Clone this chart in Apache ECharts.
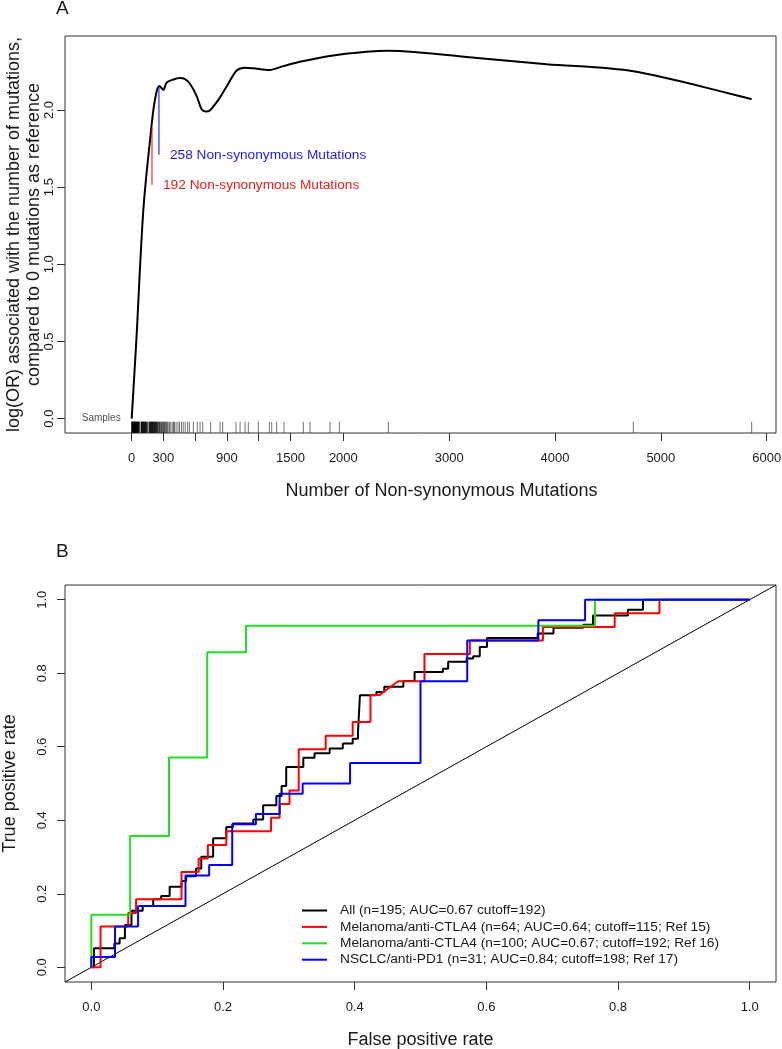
<!DOCTYPE html>
<html>
<head>
<meta charset="utf-8">
<script src="https://cdn.jsdelivr.net/npm/echarts@6/dist/echarts.min.js"></script>
<style>
  html, body { margin: 0; padding: 0; background: #fff; }
  #chart { width: 782px; height: 1049px; }
</style>
</head>
<body>
<div id="chart"></div>
<script>
// panel A: fitted log(OR) curve against mutation count
const curveX = [0, 22, 50, 78, 110, 142, 173, 205, 236, 261, 299, 330, 393, 456, 504, 551, 614, 661, 700, 740, 787, 834, 913, 992, 1071, 1150, 1300, 1433, 1590, 1905, 2220, 2425, 3291, 3922, 4740, 5858];
const curveY = [0, 0.25, 0.58, 0.97, 1.35, 1.6, 1.8, 2.0, 2.12, 2.155, 2.13, 2.177, 2.197, 2.207, 2.2, 2.17, 2.09, 2.004, 1.99, 1.997, 2.036, 2.08, 2.17, 2.256, 2.274, 2.27, 2.259, 2.284, 2.312, 2.353, 2.377, 2.384, 2.335, 2.296, 2.25, 2.069];

// mutation counts of the samples (rug)
const samples = [0, 2, 4, 5, 7, 9, 11, 12, 14, 16, 18, 20, 21, 23, 25, 27, 29, 31, 33, 34, 36, 38, 40, 42, 44, 46, 48, 50, 52, 54, 57, 59, 61, 63, 66, 68, 70, 72,
  88, 90, 93, 95, 97, 100, 102, 105, 107, 110, 112, 115, 118, 120, 123, 126, 128, 131, 134, 137, 140, 142,
  150, 155,
  166, 168, 171, 174, 176, 179, 182, 185, 188, 191, 193, 196, 199, 202, 205, 208, 211, 214, 217, 220, 223, 226, 229, 232, 236, 239, 242, 245,
  254, 259, 263, 268, 275, 281, 286, 292, 301, 306, 312, 318, 326, 333, 340, 352, 360, 371, 388, 396, 405, 420,
  438, 452, 470, 487, 506, 529, 545, 583, 620, 646, 671, 746, 835, 860, 986, 1024, 1071, 1102, 1197,
  1301, 1323, 1370, 1439, 1622, 1685, 1874, 1962, 2425, 4740, 5858];

const cutRed = [[192, 1.883], [192, 1.515]];
const cutBlue = [[258, 2.155], [258, 1.709]];

const tickA = [0, 300, 600, 900, 1200, 1500, 2000, 3000, 4000, 5000, 6000];
const labelA = [0, 300, 900, 1500, 2000, 3000, 4000, 5000, 6000];
const tickAy = [0, 0.5, 1, 1.5, 2];
const tickB = [0, 0.2, 0.4, 0.6, 0.8, 1];

// panel B: ROC curves [FPR, TPR]
const rocAll = [[0, 0], [0.004, 0], [0.004, 0.052], [0.035, 0.052], [0.035, 0.065], [0.043, 0.065], [0.043, 0.079], [0.051, 0.079], [0.051, 0.115], [0.061, 0.115], [0.061, 0.154], [0.078, 0.154], [0.078, 0.167], [0.094, 0.167], [0.094, 0.185], [0.106, 0.185], [0.106, 0.194], [0.119, 0.194], [0.119, 0.219], [0.137, 0.219], [0.137, 0.235], [0.144, 0.235], [0.144, 0.248], [0.159, 0.248], [0.159, 0.269], [0.167, 0.269], [0.167, 0.301], [0.185, 0.301], [0.185, 0.351], [0.205, 0.351], [0.205, 0.382], [0.215, 0.382], [0.215, 0.391], [0.246, 0.391], [0.246, 0.402], [0.261, 0.402], [0.261, 0.441], [0.281, 0.441], [0.281, 0.466], [0.289, 0.466], [0.289, 0.493], [0.296, 0.493], [0.296, 0.545], [0.322, 0.545], [0.322, 0.570], [0.339, 0.570], [0.339, 0.582], [0.362, 0.582], [0.362, 0.595], [0.382, 0.595], [0.382, 0.609], [0.397, 0.609], [0.397, 0.622], [0.405, 0.622], [0.405, 0.638], [0.408, 0.638], [0.408, 0.740], [0.433, 0.740], [0.433, 0.749], [0.445, 0.749], [0.445, 0.763], [0.474, 0.763], [0.474, 0.779], [0.491, 0.779], [0.491, 0.803], [0.534, 0.803], [0.534, 0.812], [0.542, 0.812], [0.542, 0.831], [0.570, 0.831], [0.570, 0.840], [0.580, 0.840], [0.580, 0.846], [0.590, 0.846], [0.590, 0.871], [0.601, 0.871], [0.601, 0.896], [0.678, 0.896], [0.678, 0.908], [0.702, 0.908], [0.702, 0.924], [0.747, 0.924], [0.747, 0.932], [0.762, 0.932], [0.762, 0.957], [0.815, 0.957], [0.815, 0.973], [0.838, 0.973], [0.838, 1], [1, 1]];
const rocCtla64 = [[0, 0], [0.014, 0], [0.014, 0.111], [0.056, 0.111], [0.056, 0.148], [0.068, 0.148], [0.068, 0.185], [0.137, 0.185], [0.137, 0.259], [0.163, 0.259], [0.163, 0.296], [0.177, 0.296], [0.177, 0.333], [0.205, 0.333], [0.205, 0.370], [0.273, 0.370], [0.273, 0.407], [0.286, 0.407], [0.286, 0.444], [0.301, 0.444], [0.301, 0.481], [0.315, 0.481], [0.315, 0.593], [0.356, 0.593], [0.356, 0.630], [0.397, 0.630], [0.397, 0.667], [0.424, 0.667], [0.424, 0.741], [0.438, 0.741], [0.466, 0.778], [0.506, 0.778], [0.506, 0.852], [0.575, 0.852], [0.575, 0.889], [0.686, 0.889], [0.686, 0.926], [0.795, 0.926], [0.795, 0.963], [0.863, 0.963], [0.863, 1], [1, 1]];
const rocCtla100 = [[0, 0], [0, 0.143], [0.059, 0.143], [0.059, 0.357], [0.118, 0.357], [0.118, 0.571], [0.176, 0.571], [0.176, 0.857], [0.235, 0.857], [0.235, 0.929], [0.765, 0.929], [0.765, 1], [1, 1]];
const rocPd1 = [[0, 0], [0, 0.028], [0.036, 0.028], [0.036, 0.111], [0.071, 0.111], [0.071, 0.167], [0.143, 0.167], [0.143, 0.25], [0.179, 0.25], [0.179, 0.278], [0.214, 0.278], [0.214, 0.389], [0.25, 0.389], [0.25, 0.417], [0.286, 0.417], [0.286, 0.472], [0.321, 0.472], [0.321, 0.5], [0.393, 0.5], [0.393, 0.556], [0.5, 0.556], [0.5, 0.778], [0.571, 0.778], [0.571, 0.889], [0.679, 0.889], [0.679, 0.944], [0.75, 0.944], [0.75, 1], [1, 1]];
const diag = [[-0.04, -0.04], [1.04, 1.04]];

const rocNames = [
  'All (n=195; AUC=0.67 cutoff=192)',
  'Melanoma/anti-CTLA4 (n=64; AUC=0.64; cutoff=115; Ref 15)',
  'Melanoma/anti-CTLA4 (n=100; AUC=0.67; cutoff=192; Ref 16)',
  'NSCLC/anti-PD1 (n=31; AUC=0.84; cutoff=198; Ref 17)'
];
const rocColors = ['#000000', '#ff0000', '#22dd22', '#0000ff'];

const font = 'Liberation Sans, Arial, Helvetica, sans-serif';
const ink = '#1a1a1a';
const fmt1 = v => v.toFixed(1);

const chart = echarts.init(document.getElementById('chart'), null, { renderer: 'canvas' });

const axisCommon = {
  type: 'value',
  axisLine: { show: false, onZero: false },
  splitLine: { show: false },
  nameLocation: 'middle',
  nameMoveOverlap: false,
  nameTextStyle: { fontFamily: font, fontSize: 18, color: ink }
};

chart.setOption({
  animation: false,
  backgroundColor: '#fff',
  textStyle: { fontFamily: font },
  graphic: [
    { type: 'text', style: { x: 56, y: 9, text: 'A', font: '19px ' + font, fill: ink, verticalAlign: 'middle' } },
    { type: 'text', style: { x: 56, y: 552, text: 'B', font: '19px ' + font, fill: ink, verticalAlign: 'middle' } }
  ],
  grid: [
    { left: 65, top: 36, width: 711, height: 397, show: true, borderColor: '#333', borderWidth: 1, containLabel: false, outerBoundsMode: 'none' },
    { left: 65, top: 585, width: 711, height: 397, show: true, borderColor: '#333', borderWidth: 1, containLabel: false, outerBoundsMode: 'none' }
  ],
  xAxis: [
    Object.assign({}, axisCommon, {
      gridIndex: 0, min: -630, max: 6088,
      name: 'Number of Non-synonymous Mutations', nameGap: 49,
      nameTextStyle: { fontFamily: font, fontSize: 18, color: ink, padding: [0, 0, 0, 42] },
      axisTick: { customValues: tickA, length: 8, lineStyle: { color: '#333' } },
      axisLabel: { customValues: labelA, formatter: v => String(v), margin: 19, fontSize: 13, color: ink, fontFamily: font }
    }),
    Object.assign({}, axisCommon, {
      gridIndex: 1, min: -0.04, max: 1.04,
      name: 'False positive rate', nameGap: 49,
      axisTick: { customValues: tickB, length: 8, lineStyle: { color: '#333' } },
      axisLabel: { customValues: tickB, formatter: fmt1, margin: 19, fontSize: 13, color: ink, fontFamily: font }
    })
  ],
  yAxis: [
    Object.assign({}, axisCommon, {
      gridIndex: 0, min: -0.093, max: 2.479,
      name: 'log(OR) associated with the number of mutations,\ncompared to 0 mutations as reference',
      nameGap: 21,
      nameTextStyle: { fontFamily: font, fontSize: 18, color: ink, lineHeight: 20 },
      axisTick: { customValues: tickAy, length: 8, lineStyle: { color: '#333' } },
      axisLabel: { customValues: tickAy, formatter: fmt1, rotate: 90, margin: 9, fontSize: 13, color: ink, fontFamily: font }
    }),
    Object.assign({}, axisCommon, {
      gridIndex: 1, min: -0.04, max: 1.04,
      name: 'True positive rate', nameGap: 46,
      axisTick: { customValues: tickB, length: 8, lineStyle: { color: '#333' } },
      axisLabel: { customValues: tickB, formatter: fmt1, rotate: 90, margin: 16, fontSize: 13, color: ink, fontFamily: font }
    })
  ],
  legend: {
    data: rocNames,
    orient: 'vertical',
    left: 302, top: 903.5,
    padding: 0,
    icon: 'rect',
    itemWidth: 25, itemHeight: 2, itemGap: 2.4,
    selectedMode: false,
    textStyle: { fontFamily: font, fontSize: 13.7, color: ink, lineHeight: 14, padding: [0, 0, 0, 8] }
  },
  series: [
    {
      type: 'scatter', xAxisIndex: 0, yAxisIndex: 0, silent: true,
      symbol: 'rect', symbolSize: [1, 11],
      itemStyle: { color: '#000', opacity: 0.55 },
      data: samples.map(v => [v, -0.055])
    },
    {
      type: 'scatter', xAxisIndex: 0, yAxisIndex: 0, silent: true,
      symbolSize: 0.1, itemStyle: { color: 'rgba(0,0,0,0)' },
      label: { show: true, position: 'left', distance: 11, formatter: 'Samples', fontSize: 10, color: ink, fontFamily: font },
      data: [[0, 0]]
    },
    {
      type: 'line', xAxisIndex: 0, yAxisIndex: 0, symbol: 'none', smooth: 0.3, silent: true,
      lineStyle: { color: '#000', width: 2 },
      data: curveX.map((x, i) => [x, curveY[i]])
    },
    {
      type: 'line', xAxisIndex: 0, yAxisIndex: 0, symbol: 'none', silent: true,
      lineStyle: { color: '#ff0000', width: 1 },
      endLabel: { show: true, formatter: '192 Non-synonymous Mutations', distance: 11, fontSize: 13.7, color: '#ee1c1c', fontFamily: font },
      data: cutRed
    },
    {
      type: 'line', xAxisIndex: 0, yAxisIndex: 0, symbol: 'none', silent: true,
      lineStyle: { color: '#0000ff', width: 1 },
      endLabel: { show: true, formatter: '258 Non-synonymous Mutations', distance: 11, fontSize: 13.7, color: '#1c1cee', fontFamily: font },
      data: cutBlue
    },
    {
      type: 'line', xAxisIndex: 1, yAxisIndex: 1, symbol: 'none', silent: true,
      lineStyle: { color: '#000', width: 1 },
      data: diag
    },
    ...[rocAll, rocCtla64, rocCtla100, rocPd1].map((d, i) => ({
      name: rocNames[i],
      type: 'line', xAxisIndex: 1, yAxisIndex: 1, symbol: 'none', silent: true,
      lineStyle: { color: rocColors[i], width: 2 },
      itemStyle: { color: rocColors[i] },
      data: d
    }))
  ]
});
</script>
</body>
</html>
